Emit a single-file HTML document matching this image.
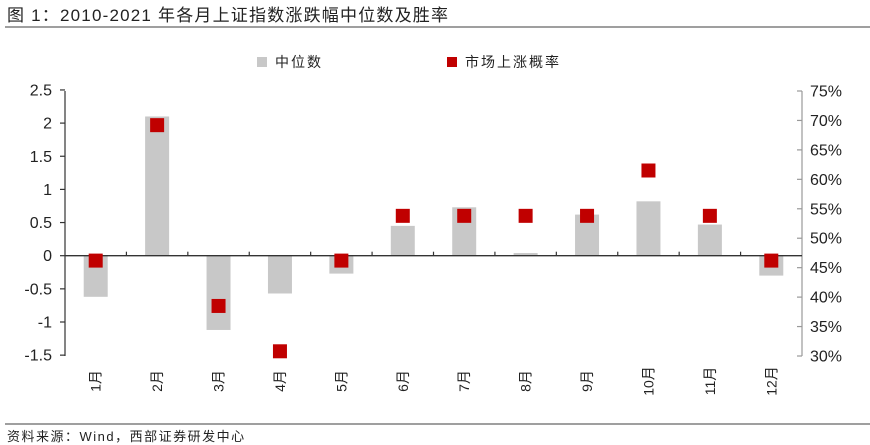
<!DOCTYPE html>
<html><head><meta charset="utf-8"><style>
body{margin:0;width:870px;height:445px;background:#fff;overflow:hidden}
svg{display:block}
text{font-family:"Liberation Sans","Noto Sans CJK SC",sans-serif;fill:#222}
</style></head><body>
<svg width="870" height="445" viewBox="0 0 870 445">
<text x="7" y="21" font-size="17" letter-spacing="1.2">图 1：2010-2021 年各月上证指数涨跌幅中位数及胜率</text>
<line x1="5" y1="27" x2="870" y2="27" stroke="#666" stroke-width="1.2"/>
<rect x="257" y="57" width="10" height="10" fill="#c8c8c8"/>
<text x="275" y="67" font-size="14" letter-spacing="2">中位数</text>
<rect x="447" y="57" width="10" height="10" fill="#c00000"/>
<text x="465" y="67" font-size="14" letter-spacing="2">市场上涨概率</text>
<g stroke="#333" stroke-width="1.2">
<line x1="65" y1="91" x2="65" y2="356"/>
</g>
<g stroke="#999" stroke-width="1.2">
<line x1="802" y1="91" x2="802" y2="356"/>
</g>
<line x1="5" y1="424" x2="870" y2="424" stroke="#666" stroke-width="1.2"/>
<text x="7" y="441" font-size="13" letter-spacing="1.5">资料来源：Wind，西部证券研发中心</text>
</svg>
<script>
var ns="http://www.w3.org/2000/svg",svg=document.querySelector("svg");
function el(t,a,txt){var e=document.createElementNS(ns,t);for(var k in a)e.setAttribute(k,a[k]);if(txt!=null)e.textContent=txt;svg.appendChild(e);return e;}
var y0=255.7,u=66.3;function yl(v){return y0-v*u}
function yr(p){return 356-(p-30)*(265/45)}
var bars=[-0.62,2.1,-1.12,-0.57,-0.27,0.45,0.73,0.04,0.62,0.82,0.47,-0.3];
var pts=[46.2,69.2,38.5,30.8,46.2,53.8,53.8,53.8,53.8,61.5,53.8,46.2];
var w=(802-65)/12;
for(var i=0;i<12;i++){var c=65+w*(i+0.5),v=bars[i];
el("rect",{x:c-12,y:Math.min(yl(v),y0),width:24,height:Math.abs(yl(v)-y0),fill:"#c8c8c8"});}
el("line",{x1:65,y1:y0,x2:802,y2:y0,stroke:"#333","stroke-width":1.3});
for(var i=1;i<12;i++){var x=65+w*i;el("line",{x1:x,y1:y0-4,x2:x,y2:y0,stroke:"#333","stroke-width":1.2});}
for(var i=0;i<12;i++){var c=65+w*(i+0.5);
el("rect",{x:c-7,y:yr(pts[i])-7,width:14,height:14,fill:"#c00000"});
el("text",{x:0,y:0,"font-size":14,"text-anchor":"middle",transform:"translate("+(c+5)+",381) rotate(-90)"},(i+1)+"月");}
for(var k=0;k<=8;k++){var v=2.5-0.5*k,y=yl(v);
el("line",{x1:60,y1:y,x2:65,y2:y,stroke:"#333","stroke-width":1.2});
el("text",{x:52,y:y+5.5,"font-size":16,"text-anchor":"end"},String(v));}
for(var k=0;k<=9;k++){var p=75-5*k,y=yr(p);
el("line",{x1:797,y1:y,x2:802,y2:y,stroke:"#999","stroke-width":1.2});
el("text",{x:810,y:y+5.5,"font-size":16},p+"%");}
</script>
</body></html>
